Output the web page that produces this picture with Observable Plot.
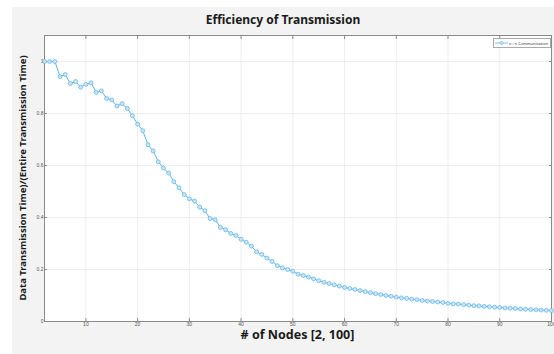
<!DOCTYPE html>
<html>
<head>
<meta charset="utf-8">
<script src="https://cdn.jsdelivr.net/npm/d3@7"></script>
<script src="https://cdn.jsdelivr.net/npm/@observablehq/plot@0.6"></script>
<style>
html, body { margin: 0; padding: 0; background: #ffffff; }
#fig { position: relative; width: 554px; height: 354px; overflow: hidden; background: #ffffff; font-family: "Noto Sans", sans-serif; }
#panel { position: absolute; left: 12px; top: 7px; width: 542px; height: 347px; background: #f3f3f3; }
#chart { position: absolute; left: 0; top: 0; }
.title { position: absolute; left: 0; width: 542px; text-align: center; top: 4px; font-weight: bold; font-size: 12px; color: #1a1a1a; white-space: nowrap; }
.xlabel { position: absolute; left: 32px; width: 507px; text-align: center; top: 319px; font-weight: bold; font-size: 12.5px; color: #1a1a1a; white-space: nowrap; }
.ylabel { position: absolute; left: 10px; top: 171px; width: 0; height: 0; }
.ylabel span { position: absolute; transform: translate(-50%, -50%) rotate(-90deg); font-weight: bold; font-size: 9.5px; color: #1a1a1a; white-space: nowrap; }
.legend { position: absolute; left: 481px; top: 31px; width: 56px; height: 8px; background: #fff; border: 0.6px solid #aaa; display: flex; align-items: center; font-size: 4px; color: #333; }
.legend svg { display: block; margin-left: 1px; margin-right: 1px; }
</style>
</head>
<body>
<div id="fig">
  <div id="panel">
    <div id="chart"></div>
    <div class="title" id="title"></div>
    <div class="xlabel" id="xlabel"></div>
    <div class="ylabel"><span id="ylabel"></span></div>
    <div class="legend" id="legend"></div>
  </div>
</div>
<script>
// ---- data ----
const titleText = "Efficiency of Transmission";
const xLabelText = "# of Nodes [2, 100]";
const yLabelText = "Data Transmission Time)/(Entire Transmission Time)";
const seriesName = "n : n Communication";

const nodes = [
  2, 3, 4, 5, 6, 7, 8, 9, 10, 11, 12, 13, 14, 15, 16, 17, 18, 19, 20, 21,
  22, 23, 24, 25, 26, 27, 28, 29, 30, 31, 32, 33, 34, 35, 36, 37, 38, 39, 40, 41,
  42, 43, 44, 45, 46, 47, 48, 49, 50, 51, 52, 53, 54, 55, 56, 57, 58, 59, 60, 61,
  62, 63, 64, 65, 66, 67, 68, 69, 70, 71, 72, 73, 74, 75, 76, 77, 78, 79, 80, 81,
  82, 83, 84, 85, 86, 87, 88, 89, 90, 91, 92, 93, 94, 95, 96, 97, 98, 99, 100
];
const efficiency = [
  1.000, 1.000, 1.000, 0.942, 0.950, 0.915, 0.923, 0.901, 0.912, 0.918,
  0.881, 0.887, 0.858, 0.852, 0.829, 0.838, 0.819, 0.791, 0.759, 0.734,
  0.680, 0.656, 0.614, 0.590, 0.571, 0.538, 0.514, 0.488, 0.472, 0.463,
  0.440, 0.426, 0.396, 0.391, 0.362, 0.353, 0.339, 0.331, 0.316, 0.305,
  0.290, 0.268, 0.258, 0.244, 0.231, 0.215, 0.206, 0.200, 0.193, 0.182,
  0.177, 0.171, 0.164, 0.157, 0.151, 0.146, 0.141, 0.136, 0.131, 0.127,
  0.123, 0.119, 0.115, 0.111, 0.107, 0.104, 0.100, 0.097, 0.094, 0.091,
  0.089, 0.086, 0.084, 0.081, 0.079, 0.077, 0.075, 0.073, 0.070, 0.068,
  0.067, 0.065, 0.063, 0.061, 0.060, 0.058, 0.057, 0.055, 0.054, 0.052,
  0.051, 0.050, 0.048, 0.047, 0.046, 0.045, 0.044, 0.043, 0.042
];
const xTicks = [10, 20, 30, 40, 50, 60, 70, 80, 90, 100];
const yTicks = [0, 0.2, 0.4, 0.6, 0.8, 1];
const xDomain = [2, 100];
const yDomain = [0, 1.1];

// ---- styles ----
const lineColor = "#5db3e6";
const markerFill = "#c9e5f7";
const axisColor = "#8a8a8a";
const gridColor = "#e9e9e9";

const data = nodes.map((n, i) => ({n, v: efficiency[i]}));

const chart = Plot.plot({
  width: 542,
  height: 347,
  marginLeft: 32,
  marginRight: 3,
  marginTop: 28,
  marginBottom: 33,
  style: {background: "transparent", fontFamily: "Liberation Sans, Arial, sans-serif"},
  x: {domain: xDomain, ticks: xTicks},
  y: {domain: yDomain, ticks: yTicks},
  marks: [
    Plot.frame({fill: "#ffffff", stroke: null}),
    Plot.gridX(xTicks, {stroke: gridColor, strokeOpacity: 1, strokeWidth: 0.8}),
    Plot.gridY(yTicks, {stroke: gridColor, strokeOpacity: 1, strokeWidth: 0.8}),
    Plot.axisX(xTicks, {anchor: "bottom", tickSize: -3, tickPadding: 4, fontSize: 5, stroke: axisColor, fill: "#555", label: null, tickFormat: d3.format("d")}),
    Plot.axisX(xTicks, {anchor: "top", tickSize: -3, label: null, tickFormat: () => "", stroke: axisColor}),
    Plot.axisY(yTicks, {anchor: "left", tickSize: -3, tickPadding: 4, fontSize: 5, stroke: axisColor, fill: "#555", label: null, tickFormat: d => d === 0 ? "0" : d === 1 ? "1" : d3.format(".1f")(d)}),
    Plot.axisY(yTicks, {anchor: "right", tickSize: -3, label: null, tickFormat: () => "", stroke: axisColor}),
    Plot.frame({stroke: axisColor, strokeWidth: 1}),
    Plot.line(data, {x: "n", y: "v", stroke: lineColor, strokeWidth: 1}),
    Plot.dot(data, {x: "n", y: "v", r: 2, stroke: lineColor, fill: markerFill, strokeWidth: 0.7})
  ]
});
document.getElementById("chart").appendChild(chart);

document.getElementById("title").textContent = titleText;
document.getElementById("xlabel").textContent = xLabelText;
document.getElementById("ylabel").textContent = yLabelText;

const legend = document.getElementById("legend");
legend.innerHTML = `<svg width="13" height="6"><line x1="0" y1="3" x2="13" y2="3" stroke="${lineColor}" stroke-width="0.8"/><circle cx="6.5" cy="3" r="1.6" fill="${markerFill}" stroke="${lineColor}" stroke-width="0.6"/></svg><span></span>`;
legend.querySelector("span").textContent = seriesName;
</script>
</body>
</html>
